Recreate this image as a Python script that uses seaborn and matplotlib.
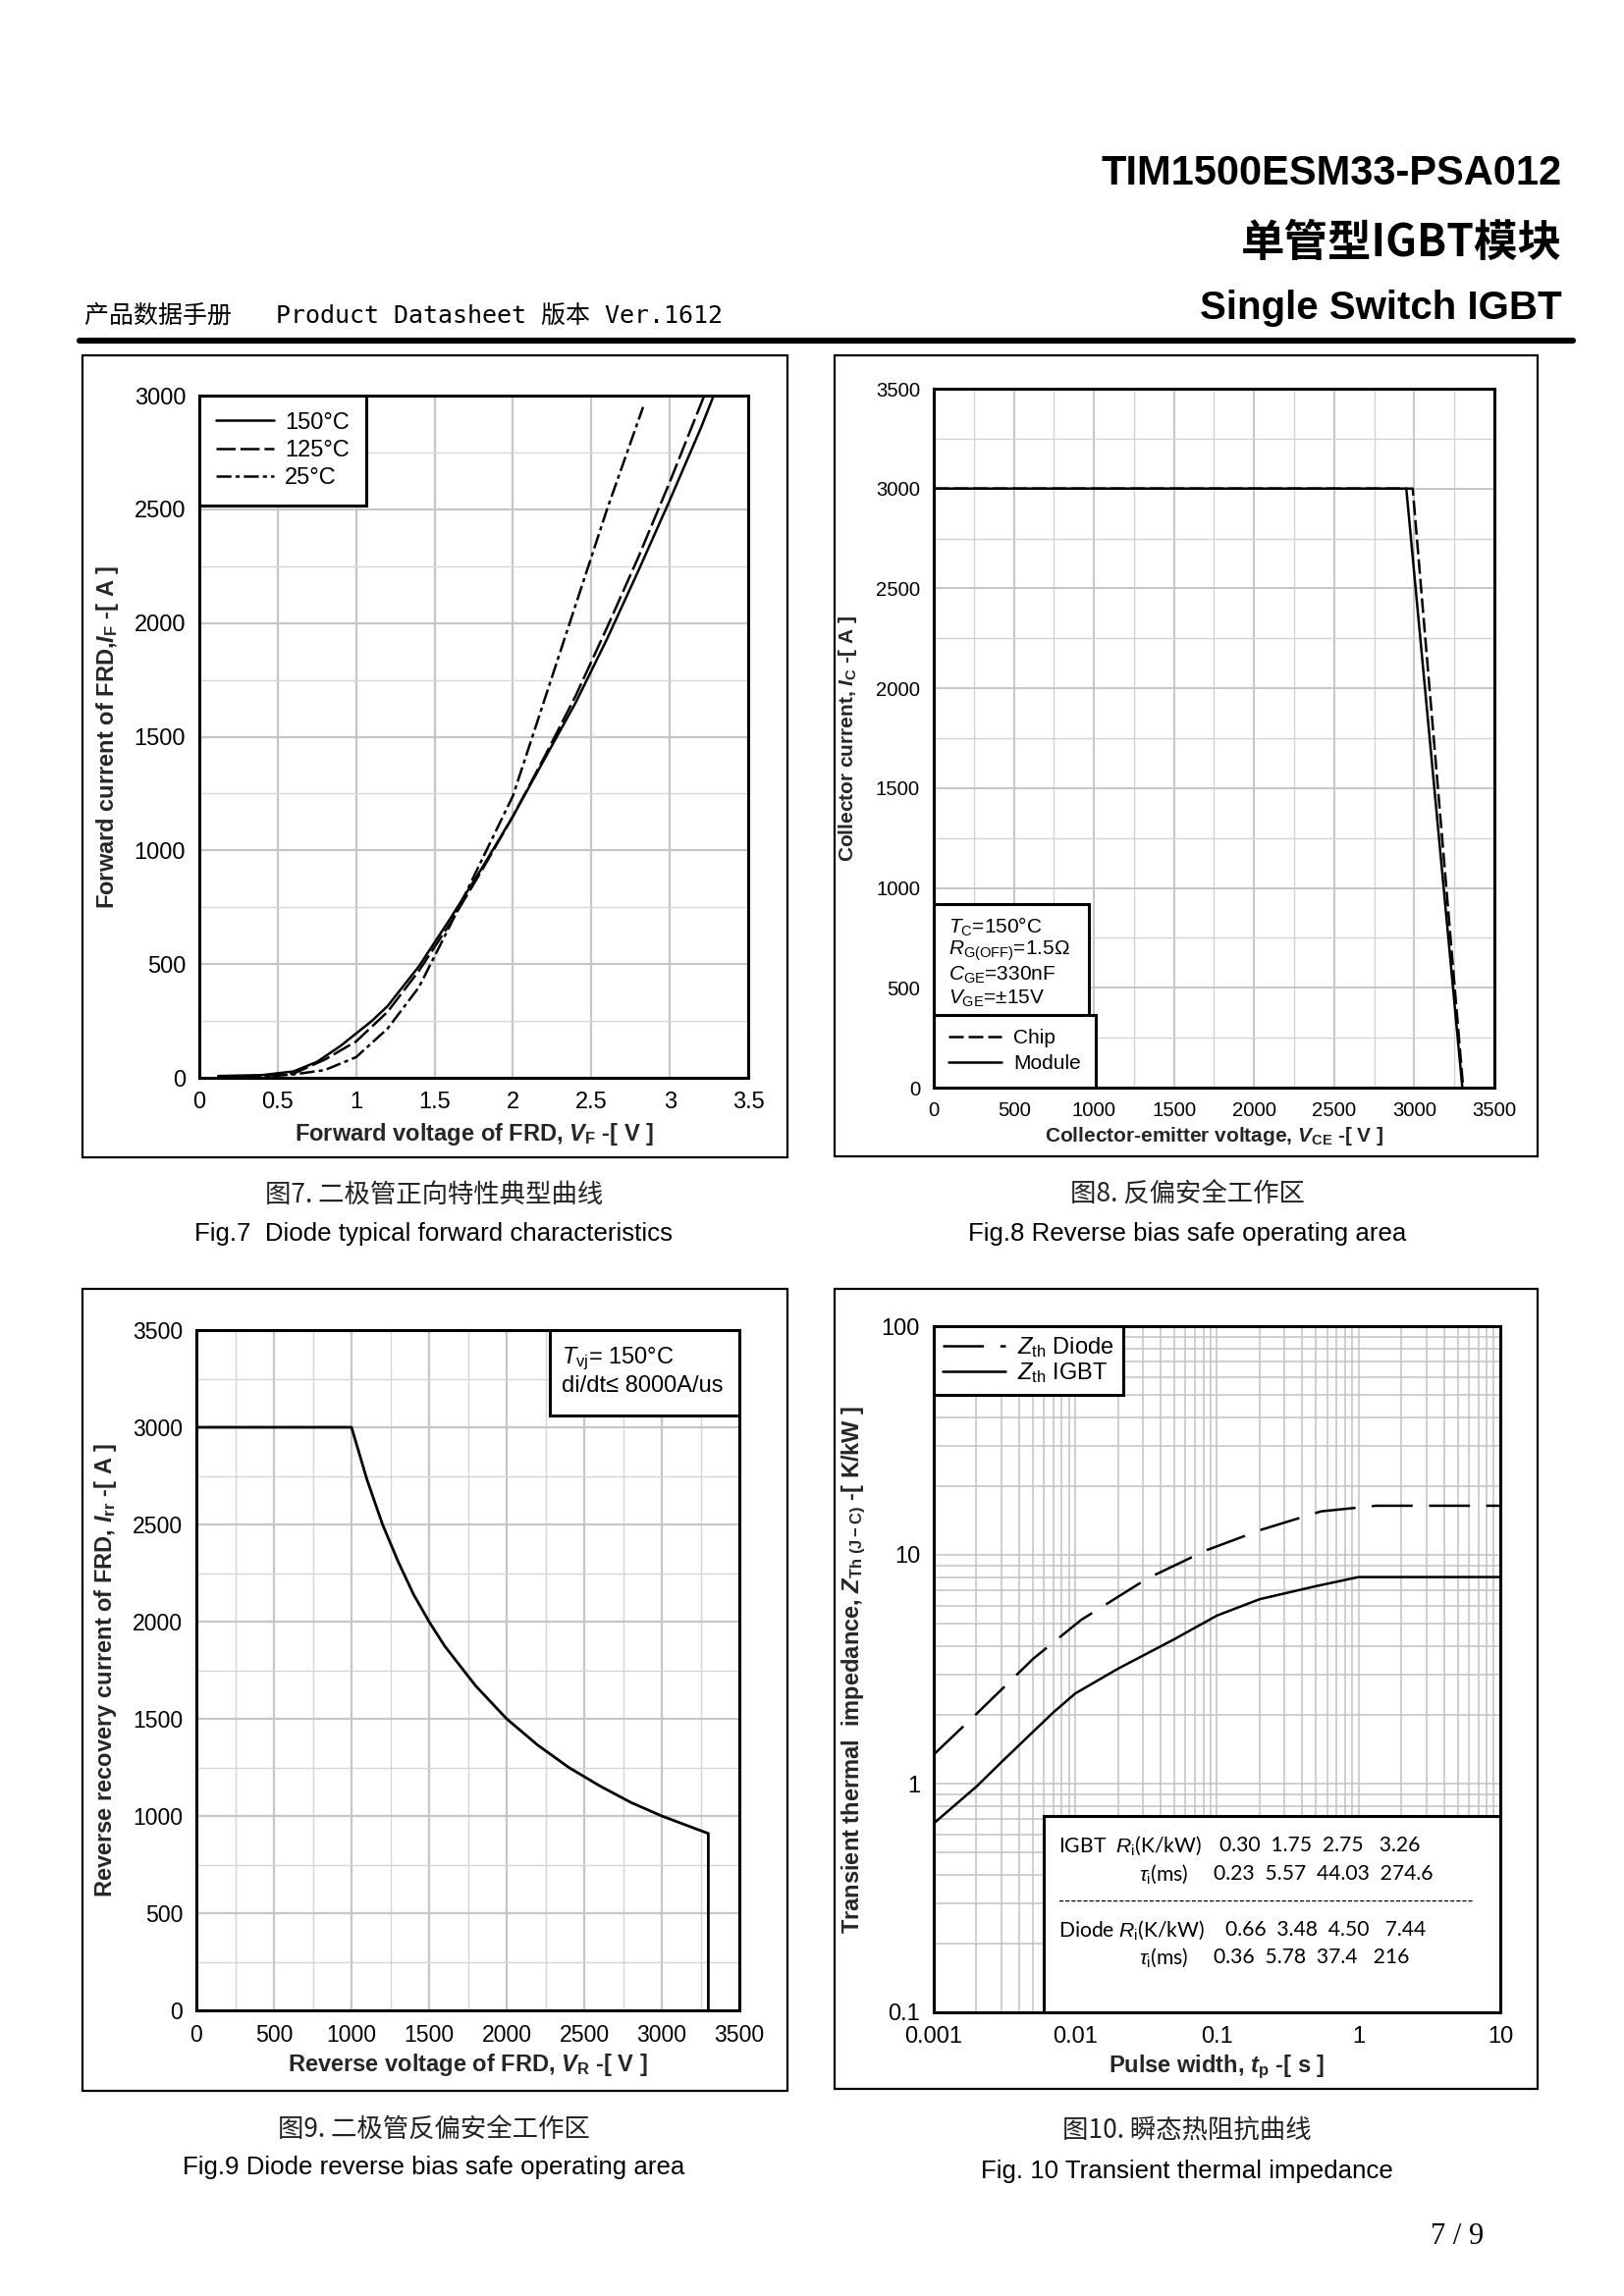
import numpy as np
import matplotlib
matplotlib.use('Agg')
import matplotlib.pyplot as plt
import seaborn as sns
from matplotlib.patches import Rectangle
from matplotlib.lines import Line2D
from matplotlib.ticker import MultipleLocator, LogLocator, NullFormatter, FuncFormatter

# ---- Fig.7 diode forward characteristics
vf_150 = [0.12, 0.4, 0.6, 0.75, 0.9, 1.0, 1.1, 1.2, 1.4, 1.6, 1.8, 2.0, 2.2, 2.4, 2.6, 2.8, 3.0, 3.2, 3.28]
if_150 = [8, 12, 28, 70, 140, 195, 250, 315, 490, 700, 920, 1150, 1400, 1650, 1930, 2230, 2540, 2860, 3000]
vf_125 = [0.12, 0.4, 0.6, 0.8, 1.0, 1.2, 1.4, 1.6, 1.8, 2.0, 2.2, 2.4, 2.6, 2.8, 3.0, 3.22]
if_125 = [5, 8, 18, 80, 160, 290, 470, 680, 910, 1150, 1410, 1680, 1980, 2290, 2620, 3000]
vf_25 = [0.12, 0.4, 0.6, 0.8, 1.0, 1.2, 1.4, 1.6, 1.8, 2.0, 2.2, 2.4, 2.6, 2.83]
if_25 = [2, 4, 15, 34, 91, 216, 398, 671, 956, 1240, 1660, 2080, 2500, 2950]

# ---- Fig.8 RBSOA
vce_chip = [0, 2990, 3305]
ic_chip = [3000, 3000, 0]
vce_module = [0, 2950, 3300]
ic_module = [3000, 3000, 0]

# ---- Fig.9 diode RBSOA
vr = [0, 1000, 1100, 1200, 1300, 1400, 1500, 1600, 1800, 2000, 2200, 2400, 2600, 2800, 3000, 3200, 3300, 3300]
irr = [3000, 3000, 2730, 2500, 2310, 2140, 2000, 1875, 1670, 1500, 1365, 1250, 1155, 1070, 1000, 940, 910, 0]

# ---- Fig.10 transient thermal impedance
tp_igbt = [0.001, 0.002, 0.003, 0.005, 0.007, 0.01, 0.02, 0.05, 0.1, 0.2, 0.5, 1, 10]
zth_igbt = [0.67, 0.97, 1.24, 1.68, 2.05, 2.48, 3.18, 4.28, 5.43, 6.4, 7.3, 8.0, 8.0]
tp_diode = [0.001, 0.00204, 0.00505, 0.011, 0.0324, 0.0849, 0.207, 0.543, 1.33, 10]
zth_diode = [1.34, 2.04, 3.52, 5.2, 7.9, 10.5, 12.9, 15.5, 16.4, 16.4]
igbt_ri = ['0.30', '1.75', '2.75', ' 3.26']
igbt_tau = ['0.23', '5.57', '44.03', '274.6']
diode_ri = ['0.66', '3.48', '4.50', ' 7.44']
diode_tau = ['0.36', '5.78', '37.4', ' 216']

W, H = 1654, 2339

sns.set_theme(style='white')
plt.rcParams['font.family'] = ['Liberation Sans', 'DejaVu Sans']
plt.rcParams['mathtext.fontset'] = 'custom'
plt.rcParams['mathtext.rm'] = 'Liberation Sans'
plt.rcParams['mathtext.it'] = 'Liberation Sans:italic'
plt.rcParams['mathtext.bf'] = 'Liberation Sans:bold'
plt.rcParams['mathtext.bfit'] = 'Liberation Sans:italic:bold'
plt.rcParams['lines.scale_dashes'] = False
plt.rcParams['text.color'] = 'black'


def rect(x0, y0, x1, y1):
    return [x0 / W, 1 - y1 / H, (x1 - x0) / W, (y1 - y0) / H]


def fx(x):
    return x / W


def fy(y):
    return 1 - y / H


fig = plt.figure(figsize=(W / 200, H / 200), dpi=200)
fig.patch.set_facecolor('white')


def style_axes(ax, size):
    for s in ax.spines.values():
        s.set_visible(True)
        s.set_linewidth(1.1)
        s.set_color('black')
    ax.tick_params(which='both', length=0, labelsize=size, colors='black', pad=5)
    ax.set_axisbelow(True)


def frame(x0, y0, x1, y1):
    fig.add_artist(Rectangle((fx(x0), fy(y1)), (x1 - x0) / W, (y1 - y0) / H,
                             transform=fig.transFigure, fill=False, ec='black', lw=0.8))


def box_legend(ax, size, **kw):
    leg = ax.legend(fontsize=size, fancybox=False, edgecolor='black', framealpha=1,
                    borderaxespad=0, **kw)
    leg.get_frame().set_linewidth(1.1)
    return leg


num = FuncFormatter(lambda v, p: f'{v:g}')

# ---------------- header
narrow = ['Liberation Sans Narrow', 'Liberation Sans', 'Noto Sans CJK SC']
fig.text(fx(1591), fy(177), 'TIM1500ESM33-PSA012', ha='right', va='center',
         fontsize=15, fontweight='bold', family=narrow)
fig.text(fx(1591), fy(248), '单管型IGBT模块', ha='right', va='center',
         fontsize=16, fontweight='bold', family=['Noto Sans CJK SC'])
fig.text(fx(1591), fy(314), 'Single Switch IGBT', ha='right', va='center',
         fontsize=14.5, fontweight='bold', family=narrow)
fig.text(fx(86), fy(322), '产品数据手册   Product Datasheet 版本 Ver.1612', ha='left', va='center',
         fontsize=9, family=['DejaVu Sans Mono', 'Noto Sans CJK SC'])
fig.add_artist(Line2D([fx(81), fx(1602)], [fy(347), fy(347)], color='black', lw=2.2))

for box in [(84, 362, 802, 1179), (850, 362, 1566, 1178), (84, 1313, 802, 2130), (850, 1313, 1566, 2128)]:
    frame(*box)

# ---------------- Fig.7
ax7 = fig.add_axes(rect(203, 403, 762, 1098))
sns.lineplot(x=vf_150, y=if_150, ax=ax7, color='black', lw=0.9, sort=False, estimator=None, label='150°C')
sns.lineplot(x=vf_125, y=if_125, ax=ax7, color='black', lw=0.9, sort=False, estimator=None,
             linestyle=(0, (7, 1.8)), label='125°C')
sns.lineplot(x=vf_25, y=if_25, ax=ax7, color='black', lw=0.9, sort=False, estimator=None,
             linestyle=(0, (5.5, 1.5, 1.5, 1.5)), label='25°C')
ax7.set_xlim(0, 3.5)
ax7.set_ylim(0, 3000)
ax7.xaxis.set_major_locator(MultipleLocator(0.5))
ax7.yaxis.set_major_locator(MultipleLocator(500))
ax7.yaxis.set_minor_locator(MultipleLocator(250))
ax7.xaxis.set_major_formatter(num)
ax7.grid(which='major', color='#c6c6c6', lw=0.8)
ax7.grid(which='minor', axis='y', color='#d8d8d8', lw=0.5)
style_axes(ax7, 8.5)
ax7.set_xlabel(r'Forward voltage of FRD, $\mathbfit{V}_{\mathbf{F}}$ -[ V ]', fontsize=8.5,
               fontweight='bold', labelpad=3)
ax7.set_ylabel(r'Forward current of FRD,$\mathbfit{I}_{\mathbf{F}}$ -[ A ]', fontsize=8.5,
               fontweight='bold', labelpad=5)
box_legend(ax7, 8.5, loc='upper left', handlelength=2.5, handletextpad=0.5,
           labelspacing=0.27, borderpad=0.7)

# ---------------- Fig.8
ax8 = fig.add_axes(rect(951, 396, 1522, 1108))
sns.lineplot(x=vce_chip, y=ic_chip, ax=ax8, color='black', lw=0.9, sort=False, estimator=None,
             linestyle=(0, (5.4, 1.8)), label='Chip')
sns.lineplot(x=vce_module, y=ic_module, ax=ax8, color='black', lw=0.9, sort=False, estimator=None,
             label='Module')
ax8.set_xlim(0, 3500)
ax8.set_ylim(0, 3500)
for a in (ax8.xaxis, ax8.yaxis):
    a.set_major_locator(MultipleLocator(500))
    a.set_minor_locator(MultipleLocator(250))
ax8.grid(which='major', color='#c6c6c6', lw=0.7)
ax8.grid(which='minor', color='#d4d4d4', lw=0.5)
style_axes(ax8, 7.3)
ax8.set_xlabel(r'Collector-emitter voltage, $\mathbfit{V}_{\mathbf{CE}}$ -[ V ]', fontsize=7.5,
               fontweight='bold', labelpad=2)
ax8.set_ylabel(r'Collector current, $\mathbfit{I}_{\mathbf{C}}$ -[ A ]', fontsize=7.5,
               fontweight='bold', labelpad=6)
ax8.add_patch(Rectangle((0, 350), 970, 570, fc='white', ec='black', lw=1.1, zorder=3))
for k, s in enumerate([r'$\mathit{T}_{\mathrm{C}}$=150°C', r'$\mathit{R}_{\mathrm{G(OFF)}}$=1.5Ω',
                       r'$\mathit{C}_{\mathrm{GE}}$=330nF', r'$\mathit{V}_{\mathrm{GE}}$=±15V']):
    fig.text(fx(966), fy(944 + 24.5 * k), s, ha='left', va='center', fontsize=7.5, zorder=5)
box_legend(ax8, 7.5, loc='lower left', handlelength=2.6, handletextpad=0.6,
           labelspacing=0.35, borderpad=0.7)

# ---------------- Fig.9
ax9 = fig.add_axes(rect(200, 1355, 753, 2048))
sns.lineplot(x=vr, y=irr, ax=ax9, color='black', lw=1.0, sort=False, estimator=None)
ax9.set_xlim(0, 3500)
ax9.set_ylim(0, 3500)
for a in (ax9.xaxis, ax9.yaxis):
    a.set_major_locator(MultipleLocator(500))
    a.set_minor_locator(MultipleLocator(250))
ax9.grid(which='major', color='#c6c6c6', lw=0.8)
ax9.grid(which='minor', color='#d6d6d6', lw=0.5)
style_axes(ax9, 8.3)
ax9.set_xlabel(r'Reverse voltage of FRD, $\mathbfit{V}_{\mathbf{R}}$ -[ V ]', fontsize=8.5,
               fontweight='bold', labelpad=2)
ax9.set_ylabel(r'Reverse recovery current of FRD, $\mathbfit{I}_{\mathbf{rr}}$ -[ A ]', fontsize=8.5,
               fontweight='bold', labelpad=5)
ax9.add_patch(Rectangle((2278, 3060), 1222, 440, fc='white', ec='black', lw=1.1, zorder=3))
fig.text(fx(572), fy(1384), r'$\mathit{T}_{\mathrm{vj}}$= 150°C', ha='left', va='center', fontsize=8.5)
fig.text(fx(572), fy(1412), 'di/dt≤ 8000A/us', ha='left', va='center', fontsize=8.5)

# ---------------- Fig.10
ax10 = fig.add_axes(rect(951, 1351, 1528, 2050))
sns.lineplot(x=tp_diode, y=zth_diode, ax=ax10, color='black', lw=0.9, sort=False, estimator=None,
             linestyle=(0, (15, 6)), label=r'$\mathit{Z}_{\mathrm{th}}$ Diode')
sns.lineplot(x=tp_igbt, y=zth_igbt, ax=ax10, color='black', lw=0.9, sort=False, estimator=None,
             label=r'$\mathit{Z}_{\mathrm{th}}$ IGBT')
ax10.set_xscale('log')
ax10.set_yscale('log')
ax10.set_xlim(0.001, 10)
ax10.set_ylim(0.1, 100)
ax10.set_xticks([0.001, 0.01, 0.1, 1, 10], labels=['0.001', '0.01', '0.1', '1', '10'])
ax10.set_yticks([0.1, 1, 10, 100], labels=['0.1', '1', '10', '100'])
for a in (ax10.xaxis, ax10.yaxis):
    a.set_minor_locator(LogLocator(base=10, subs=np.arange(2, 10)))
    a.set_minor_formatter(NullFormatter())
ax10.grid(which='both', color='#c2c2c2', lw=0.55)
style_axes(ax10, 8.5)
ax10.set_xlabel(r'Pulse width, $\mathbfit{t}_{\mathbf{p}}$ -[ s ]', fontsize=8.5,
                fontweight='bold', labelpad=2)
ax10.set_ylabel(r'Transient thermal  impedance, $\mathbfit{Z}_{\mathbf{Th\ (J-C)}}$ -[ K/kW ]',
                fontsize=8.5, fontweight='bold', labelpad=5)
box_legend(ax10, 8.5, loc='upper left', handlelength=2.7, handletextpad=0.5,
           labelspacing=0.05, borderpad=0.4)
ax10.add_patch(Rectangle((0.00595, 0.1), 10 - 0.00595, 0.62, fc='white', ec='black', lw=1.1, zorder=3))
tfam = ['Lato', 'DejaVu Sans']
rows = [(1880, 'IGBT  ' + r'$\mathit{R}_{\mathrm{i}}$(K/kW)', 1078, igbt_ri, 1242),
        (1909, r'$\tau_{\mathrm{i}}$(ms)', 1160, igbt_tau, 1236),
        (1966, 'Diode ' + r'$\mathit{R}_{\mathrm{i}}$(K/kW)', 1078, diode_ri, 1248),
        (1994, r'$\tau_{\mathrm{i}}$(ms)', 1160, diode_tau, 1236)]
for y, lab, xl, vals, xv in rows:
    fig.text(fx(xl), fy(y), lab, ha='left', va='center', fontsize=7.6, family=tfam, zorder=5)
    fig.text(fx(xv), fy(y), '  '.join(vals), ha='left', va='center', fontsize=7.6, family=tfam, zorder=5)
fig.text(fx(1078), fy(1937), '-' * 69, ha='left', va='center', fontsize=6, family=tfam, zorder=5)

# ---------------- captions
cjk = ['Noto Sans CJK SC']
fig.text(fx(442), fy(1217), '图7. 二极管正向特性典型曲线', ha='center', va='center', fontsize=9.5, family=cjk, color='#222222')
fig.text(fx(442), fy(1257), 'Fig.7  Diode typical forward characteristics', ha='center', va='center', fontsize=9.3)
fig.text(fx(1209), fy(1217), '图8. 反偏安全工作区', ha='center', va='center', fontsize=9.5, family=cjk, color='#222222')
fig.text(fx(1209), fy(1257), 'Fig.8 Reverse bias safe operating area', ha='center', va='center', fontsize=9.3)
fig.text(fx(442), fy(2170), '图9. 二极管反偏安全工作区', ha='center', va='center', fontsize=9.5, family=cjk, color='#222222')
fig.text(fx(442), fy(2208), 'Fig.9 Diode reverse bias safe operating area', ha='center', va='center', fontsize=9.3)
fig.text(fx(1209), fy(2170), '图10. 瞬态热阻抗曲线', ha='center', va='center', fontsize=9.5, family=cjk, color='#222222')
fig.text(fx(1209), fy(2212), 'Fig. 10 Transient thermal impedance', ha='center', va='center', fontsize=9.3)
fig.text(fx(1484), fy(2279), '7 / 9', ha='center', va='center', fontsize=11, family=['Liberation Serif'])

fig.savefig('out.png', dpi=200, facecolor='white')
